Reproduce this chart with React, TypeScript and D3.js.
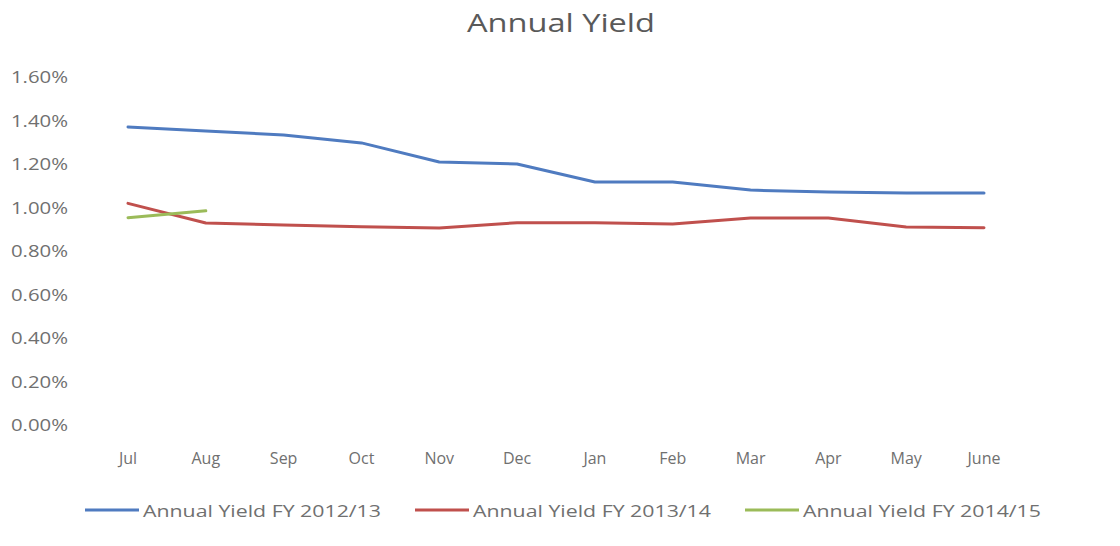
import React from "react";
import * as d3 from "d3";

const months = ["Jul", "Aug", "Sep", "Oct", "Nov", "Dec", "Jan", "Feb", "Mar", "Apr", "May", "June"];
const yTicks = [0, 0.002, 0.004, 0.006, 0.008, 0.01, 0.012, 0.014, 0.016];
const fy1213 = [0.0137, 0.01352, 0.01333, 0.01297, 0.01209, 0.012, 0.01117, 0.01117, 0.0108, 0.01071, 0.01067, 0.01067];
const fy1314 = [0.01019, 0.00929, 0.0092, 0.00912, 0.00906, 0.0093, 0.0093, 0.00924, 0.00952, 0.00952, 0.0091, 0.00907];
const fy1415 = [0.00953, 0.00985];
const seriesNames = ["Annual Yield FY 2012/13", "Annual Yield FY 2013/14", "Annual Yield FY 2014/15"];
const seriesColors = ["#4F7BC0", "#C0504D", "#9BBB59"];

export default function App() {
  const W = 1120, H = 546;
  const x = d3.scalePoint<string>().domain(months).range([128, 984]);
  const y = d3.scaleLinear().domain([0, 0.016]).range([425, 77]);
  const fmt = d3.format(".2%");
  const line = d3.line<number>().x((_, i) => x(months[i])!).y(d => y(d));
  const series = [fy1213, fy1314, fy1415];
  const legendX = [85, 415, 745];
  const font = "Open Sans, Liberation Sans, sans-serif";
  return (
    <svg width={W} height={H} style={{ position: "absolute", left: 0, top: 0, background: "#fff" }}>
      <text x={561} y={32} textAnchor="middle" fontFamily={font} fontSize={26} fill="#595959" textLength={188} lengthAdjust="spacingAndGlyphs">Annual Yield</text>
      {yTicks.map(t => (
        <text key={t} x={68} y={y(t) + 6} textAnchor="end" fontFamily={font} fontSize={16} fill="#707070" textLength={57} lengthAdjust="spacingAndGlyphs">{fmt(t)}</text>
      ))}
      {months.map(m => (
        <text key={m} x={x(m)!} y={464} textAnchor="middle" fontFamily={font} fontSize={16} fill="#707070">{m}</text>
      ))}
      {series.map((s, i) => (
        <path key={i} d={line(s) || ""} fill="none" stroke={seriesColors[i]} strokeWidth={3} strokeLinejoin="round" strokeLinecap="round" />
      ))}
      {seriesNames.map((n, i) => (
        <g key={n}>
          <line x1={legendX[i]} x2={legendX[i] + 54} y1={510} y2={510} stroke={seriesColors[i]} strokeWidth={3} />
          <text x={legendX[i] + 58} y={517} fontFamily={font} fontSize={17} fill="#707070" textLength={238} lengthAdjust="spacingAndGlyphs">{n}</text>
        </g>
      ))}
    </svg>
  );
}
